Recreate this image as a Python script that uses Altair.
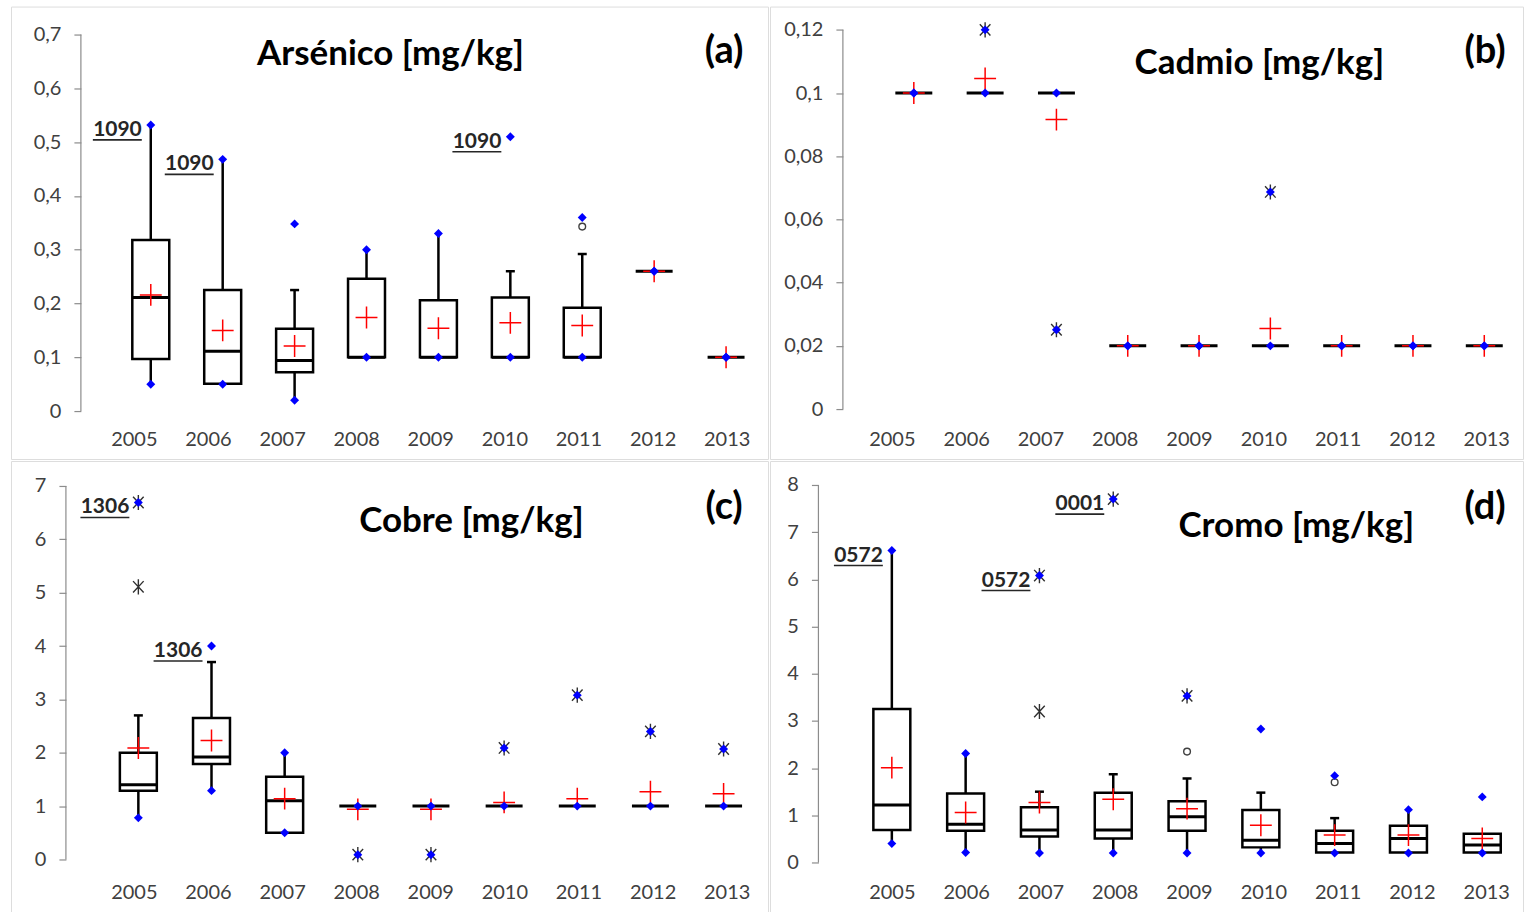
import altair as alt
import pandas as pd

years = [2005, 2006, 2007, 2008, 2009, 2010, 2011, 2012, 2013]

# ---------------- (a) Arsénico ----------------
as_min  = [0.050, 0.050, 0.020, 0.100, 0.100, 0.100, 0.100, 0.260, 0.100]
as_wlo  = [0.050, 0.050, 0.020, 0.100, 0.100, 0.100, 0.100, 0.260, 0.100]
as_q1   = [0.097, 0.051, 0.072, 0.100, 0.100, 0.100, 0.100, 0.260, 0.100]
as_med  = [0.211, 0.111, 0.094, 0.100, 0.100, 0.100, 0.100, 0.260, 0.100]
as_q3   = [0.318, 0.225, 0.153, 0.246, 0.206, 0.211, 0.192, 0.260, 0.100]
as_whi  = [0.532, 0.468, 0.225, 0.300, 0.330, 0.260, 0.292, 0.260, 0.100]
as_max  = [0.532, 0.468, 0.348, 0.300, 0.330, 0.510, 0.360, 0.260, 0.100]
as_mean = [0.216, 0.150, 0.121, 0.174, 0.154, 0.164, 0.159, 0.260, 0.100]
as_mild_year, as_mild_val = [2011], [0.343]
as_ext_year, as_ext_val = [], []
as_note_year = [2005, 2006, 2010]
as_note_val = [0.532, 0.468, 0.510]
as_note_txt = ["1090", "1090", "1090"]

# ---------------- (b) Cadmio ----------------
cd_min  = [0.10, 0.10, 0.0251, 0.02, 0.02, 0.02, 0.02, 0.02, 0.02]
cd_wlo  = [0.10, 0.10, 0.10, 0.02, 0.02, 0.02, 0.02, 0.02, 0.02]
cd_q1   = [0.10, 0.10, 0.10, 0.02, 0.02, 0.02, 0.02, 0.02, 0.02]
cd_med  = [0.10, 0.10, 0.10, 0.02, 0.02, 0.02, 0.02, 0.02, 0.02]
cd_q3   = [0.10, 0.10, 0.10, 0.02, 0.02, 0.02, 0.02, 0.02, 0.02]
cd_whi  = [0.10, 0.10, 0.10, 0.02, 0.02, 0.02, 0.02, 0.02, 0.02]
cd_max  = [0.10, 0.12, 0.10, 0.02, 0.02, 0.0687, 0.02, 0.02, 0.02]
cd_mean = [0.10, 0.1046, 0.0916, 0.02, 0.02, 0.0255, 0.02, 0.02, 0.02]
cd_mild_year, cd_mild_val = [], []
cd_ext_year = [2006, 2007, 2010]
cd_ext_val = [0.12, 0.0251, 0.0687]
cd_note_year, cd_note_val, cd_note_txt = [], [], []

# ---------------- (c) Cobre ----------------
cu_min  = [0.78, 1.29, 0.50, 0.09, 0.09, 1.00, 1.00, 1.00, 1.00]
cu_wlo  = [0.78, 1.29, 0.50, 1.00, 1.00, 1.00, 1.00, 1.00, 1.00]
cu_q1   = [1.29, 1.79, 0.50, 1.00, 1.00, 1.00, 1.00, 1.00, 1.00]
cu_med  = [1.40, 1.92, 1.10, 1.00, 1.00, 1.00, 1.00, 1.00, 1.00]
cu_q3   = [2.00, 2.65, 1.55, 1.00, 1.00, 1.00, 1.00, 1.00, 1.00]
cu_whi  = [2.70, 3.70, 2.00, 1.00, 1.00, 1.00, 1.00, 1.00, 1.00]
cu_max  = [6.69, 4.00, 2.00, 1.00, 1.00, 2.09, 3.08, 2.40, 2.07]
cu_mean = [2.09, 2.23, 1.14, 0.94, 0.94, 1.07, 1.14, 1.27, 1.23]
cu_mild_year, cu_mild_val = [], []
cu_ext_year = [2005, 2005, 2008, 2009, 2010, 2011, 2012, 2013]
cu_ext_val = [6.69, 5.11, 0.09, 0.09, 2.09, 3.08, 2.40, 2.07]
cu_note_year = [2005, 2006]
cu_note_val = [6.69, 4.00]
cu_note_txt = ["1306", "1306"]

# ---------------- (d) Cromo ----------------
cr_min  = [0.40, 0.21, 0.20, 0.20, 0.20, 0.20, 0.20, 0.20, 0.20]
cr_wlo  = [0.40, 0.21, 0.20, 0.20, 0.20, 0.20, 0.20, 0.20, 0.20]
cr_q1   = [0.69, 0.67, 0.55, 0.51, 0.67, 0.32, 0.21, 0.21, 0.21]
cr_med  = [1.22, 0.81, 0.69, 0.69, 0.97, 0.47, 0.40, 0.51, 0.37]
cr_q3   = [3.25, 1.46, 1.17, 1.48, 1.30, 1.11, 0.67, 0.78, 0.61]
cr_whi  = [6.61, 2.31, 1.50, 1.87, 1.78, 1.48, 0.94, 1.12, 0.61]
cr_max  = [6.61, 2.31, 6.08, 7.70, 3.53, 2.83, 1.84, 1.12, 1.39]
cr_mean = [2.01, 1.06, 1.27, 1.34, 1.14, 0.79, 0.58, 0.58, 0.51]
cr_mild_year = [2009, 2011]
cr_mild_val = [2.35, 1.70]
cr_ext_year = [2007, 2007, 2008, 2009]
cr_ext_val = [6.08, 3.20, 7.70, 3.53]
cr_note_year = [2005, 2007, 2008]
cr_note_val = [6.61, 6.08, 7.70]
cr_note_txt = ["0572", "0572", "0001"]

FONT = "Lato"
TXT = "#404040"
AXC = "#8c8c8c"
HALF = 18.5
PLUS = "M-1,0H1M0,-1V1"
STAR = "M0,-1V1M-0.7,-0.75L0.7,0.75M-0.7,0.75L0.7,-0.75"


def panel(stats, mild, ext, notes, title, letter, cfg):
    df = pd.DataFrame(stats)
    ys = alt.Scale(domain=cfg["ydom"], nice=False, zero=False)
    xs = alt.Scale(domain=cfg["xbox"], nice=False, zero=False)
    xl = alt.Scale(domain=cfg["xlab"], nice=False, zero=False)
    yaxis = alt.Axis(values=cfg["yticks"], format=".2~f",
                     labelExpr="replace(datum.label, '.', ',')",
                     offset=-cfg["axis_px"], domain=False, ticks=True,
                     tickSize=7, tickColor=AXC, tickWidth=1.2,
                     labelFontSize=20, labelColor=TXT, labelPadding=13,
                     labelFont=FONT, title=None, grid=False)
    xaxis = alt.Axis(values=years, format="d", offset=-31, domain=False,
                     ticks=False, tickSize=0, labelPadding=1,
                     labelFontSize=20, labelColor=TXT, labelFont=FONT,
                     labelFlush=False, labelOverlap=False, title=None,
                     grid=False)

    def X(f):
        return alt.X(f, type="quantitative", scale=xs, axis=None)

    def Y(f):
        return alt.Y(f, type="quantitative", scale=ys, axis=yaxis)

    base = alt.Chart(df)

    label_layer = base.mark_point(opacity=0).encode(
        x=alt.X("year:Q", scale=xl, axis=xaxis), y=Y("med"))

    axis_line = alt.Chart(pd.DataFrame({"lo": [0], "hi": [cfg["yticks"][-1]]})) \
        .mark_rule(color=AXC, strokeWidth=1.2).encode(
            x=alt.value(cfg["axis_px"]), y=Y("lo"), y2="hi")

    up = base.transform_filter("datum.whi > datum.q3").mark_rule(
        color="black", strokeWidth=2.5).encode(x=X("year"), y=Y("q3"), y2="whi")
    lo = base.transform_filter("datum.wlo < datum.q1").mark_rule(
        color="black", strokeWidth=2.5).encode(x=X("year"), y=Y("wlo"), y2="q1")
    capu = base.transform_filter("datum.whi > datum.q3 && datum.whi < datum.max") \
        .mark_rule(color="black", strokeWidth=2.5, xOffset=-4.5, x2Offset=4.5) \
        .encode(x=X("year"), x2="year", y=Y("whi"))
    capl = base.transform_filter("datum.wlo < datum.q1 && datum.wlo > datum.min") \
        .mark_rule(color="black", strokeWidth=2.5, xOffset=-4.5, x2Offset=4.5) \
        .encode(x=X("year"), x2="year", y=Y("wlo"))
    box = base.transform_filter("datum.q3 > datum.q1").mark_rect(
        fill="white", stroke="black", strokeWidth=2.5,
        xOffset=-HALF, x2Offset=HALF).encode(
            x=X("year"), x2="year", y=Y("q1"), y2="q3")
    med = base.mark_rule(color="black", strokeWidth=3,
                         xOffset=-HALF, x2Offset=HALF).encode(
        x=X("year"), x2="year", y=Y("med"))

    layers = [axis_line, up, lo, capu, capl, box, med]

    if mild[0]:
        mdf = pd.DataFrame({"year": mild[0], "v": mild[1]})
        layers.append(alt.Chart(mdf).mark_point(
            shape="circle", size=45, filled=False, color="#404040",
            strokeWidth=1.4, opacity=1).encode(x=X("year"), y=Y("v")))
    if ext[0]:
        edf = pd.DataFrame({"year": ext[0], "v": ext[1]})
        layers.append(alt.Chart(edf).mark_point(
            shape=STAR, size=230, filled=False, color="#303030",
            strokeWidth=1.4, opacity=1).encode(x=X("year"), y=Y("v")))

    layers.append(base.mark_point(
        shape=PLUS, size=480, filled=False, color="#ff0000",
        strokeWidth=1.5, opacity=1).encode(x=X("year"), y=Y("mean")))

    dia = pd.DataFrame({"year": years + years,
                        "v": list(df["min"]) + list(df["max"])})
    layers.append(alt.Chart(dia).mark_point(
        shape="diamond", size=80, filled=True, color="#0000ff",
        opacity=1).encode(x=X("year"), y=Y("v")))

    if notes[0]:
        ndf = pd.DataFrame({"year": notes[0], "v": notes[1], "t": notes[2]})
        layers.append(alt.Chart(ndf).mark_text(
            align="right", baseline="middle", dx=-9, dy=5, fontSize=21,
            fontWeight="bold", font=FONT, color="#262626").encode(
                x=X("year"), y=Y("v"), text="t:N"))
        layers.append(alt.Chart(ndf).mark_rule(
            color="#262626", strokeWidth=1.6, xOffset=-58, x2Offset=-9,
            yOffset=15).encode(x=X("year"), x2="year", y=Y("v")))

    tdf = pd.DataFrame({"t": [title]})
    layers.append(alt.Chart(tdf).mark_text(
        align="center", baseline="alphabetic", fontSize=35, fontWeight="bold",
        font=FONT, color="black").encode(
            text="t:N", x=alt.value(cfg["title_xy"][0]),
            y=alt.value(cfg["title_xy"][1])))
    ldf = pd.DataFrame({"t": [letter]})
    layers.append(alt.Chart(ldf).mark_text(
        align="center", baseline="alphabetic", fontSize=38, fontWeight="bold",
        font=FONT, color="black").encode(
            text="t:N", x=alt.value(cfg["letter_xy"][0]),
            y=alt.value(cfg["letter_xy"][1])))

    inner = alt.layer(*layers)
    return alt.layer(label_layer, inner).resolve_scale(x="independent") \
        .properties(width=cfg["w"], height=cfg["h"])


def stats(mn, wl, q1, md, q3, wh, mx, mean):
    return {"year": years, "min": mn, "wlo": wl, "q1": q1, "med": md,
            "q3": q3, "whi": wh, "max": mx, "mean": mean}


pa = panel(stats(as_min, as_wlo, as_q1, as_med, as_q3, as_whi, as_max, as_mean),
           (as_mild_year, as_mild_val), (as_ext_year, as_ext_val),
           (as_note_year, as_note_val, as_note_txt),
           "Arsénico [mg/kg]", "(a)",
           dict(w=758, h=453, ydom=[-0.0891, 0.752],
                yticks=[0, 0.1, 0.2, 0.3, 0.4, 0.5, 0.6, 0.7], axis_px=70,
                xbox=[2003.056, 2013.583], xlab=[2003.342, 2013.558],
                title_xy=(380, 58), letter_xy=(714, 56)))

pb = panel(stats(cd_min, cd_wlo, cd_q1, cd_med, cd_q3, cd_whi, cd_max, cd_mean),
           (cd_mild_year, cd_mild_val), (cd_ext_year, cd_ext_val),
           (cd_note_year, cd_note_val, cd_note_txt),
           "Cadmio [mg/kg]", "(b)",
           dict(w=754, h=453, ydom=[-0.0158, 0.12736],
                yticks=[0, 0.02, 0.04, 0.06, 0.08, 0.1, 0.12], axis_px=73,
                xbox=[2002.983, 2013.543], xlab=[2003.360, 2013.495],
                title_xy=(490, 67), letter_xy=(716, 56)))

pc = panel(stats(cu_min, cu_wlo, cu_q1, cu_med, cu_q3, cu_whi, cu_max, cu_mean),
           (cu_mild_year, cu_mild_val), (cu_ext_year, cu_ext_val),
           (cu_note_year, cu_note_val, cu_note_txt),
           "Cobre [mg/kg]", "(c)",
           dict(w=758, h=452, ydom=[-0.992, 7.468],
                yticks=[0, 1, 2, 3, 4, 5, 6, 7], axis_px=55,
                xbox=[2003.259, 2013.607], xlab=[2003.342, 2013.558],
                title_xy=(461, 71), letter_xy=(714, 58)))

pd_ = panel(stats(cr_min, cr_wlo, cr_q1, cr_med, cr_q3, cr_whi, cr_max, cr_mean),
            (cr_mild_year, cr_mild_val), (cr_ext_year, cr_ext_val),
            (cr_note_year, cr_note_val, cr_note_txt),
            "Cromo [mg/kg]", "(d)",
            dict(w=754, h=452, ydom=[-1.058, 8.508],
                 yticks=[0, 1, 2, 3, 4, 5, 6, 7, 8], axis_px=48.5,
                 xbox=[2003.349, 2013.552], xlab=[2003.360, 2013.495],
                 title_xy=(527, 76), letter_xy=(716, 58)))

chart = alt.vconcat(
    alt.hconcat(pa, pb, spacing=0),
    alt.hconcat(pc, pd_, spacing=0),
    spacing=0,
).properties(
    padding={"left": 10, "top": 5, "right": 0, "bottom": 0},
    background="white",
).configure_view(
    stroke="#a6a6a6", strokeWidth=1.5
).configure(font=FONT)

chart.save("out.html", embed_options={"renderer": "svg", "actions": False})
